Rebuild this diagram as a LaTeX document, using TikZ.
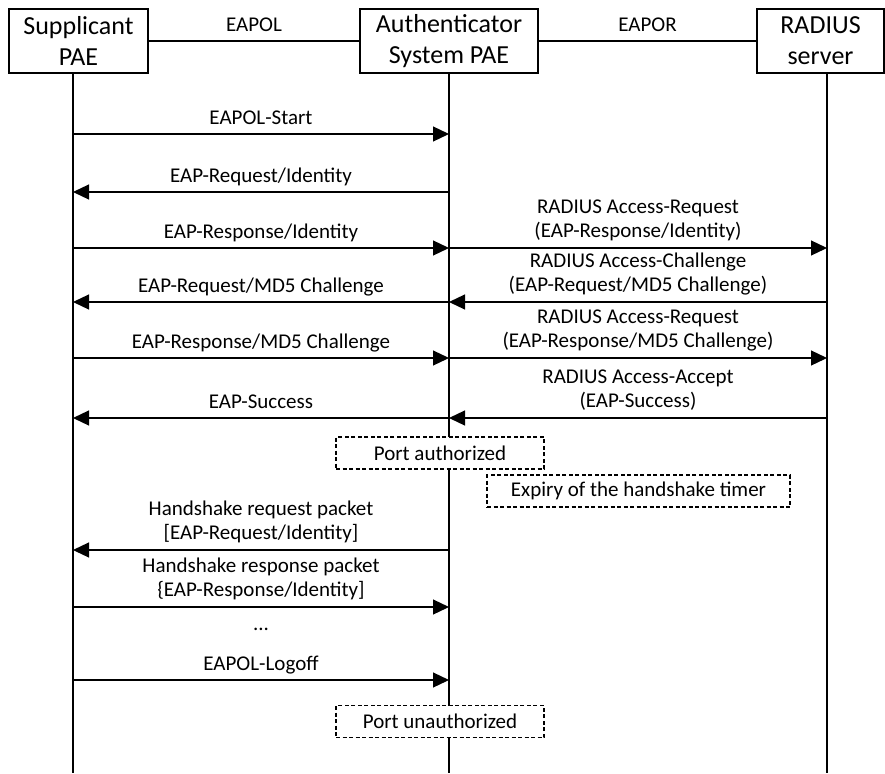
\documentclass[tikz,border=0pt]{standalone}
\usepackage{fontspec}
\setmainfont{Carlito}
\usetikzlibrary{arrows.meta, positioning}

\begin{document}
\begin{tikzpicture}[x=1pt, y=-1pt, line width=1.2pt,
  party/.style={draw, fill=white, align=center, inner sep=0pt, minimum height=64pt,
    font=\fontsize{26}{31}\selectfont},
  msg/.style={-{Triangle[length=16pt, width=15pt]}},
  lbl/.style={align=center, inner sep=0pt, text depth=5pt,
    font=\fontsize{21}{24}\selectfont},
  portstate/.style={draw, fill=white, dash pattern=on 4pt off 2.5pt, inner sep=0pt,
    minimum height=32pt, font=\fontsize{21}{24}\selectfont}]
  \clip (0,0) rectangle (885,773);
  % Parties
  \node[party, minimum width=139pt] (sup) at (78.5,41) {Supplicant\\PAE};
  \node[party, minimum width=178pt] (auth) at (449,41) {Authenticator\\System PAE};
  \node[party, minimum width=127pt] (rad) at (820.5,41) {RADIUS\\server};
  \draw (sup.east) -- node[lbl, above=4pt] (eapol) {EAPOL} (auth.west);
  \draw (auth.east) -- node[lbl, above=4pt] (eapor) {EAPOR} (rad.west);
  % Lifelines
  \coordinate (supTop) at (73,73);   \coordinate (supEnd) at (73,773);
  \coordinate (authTop) at (449,73); \coordinate (authEnd) at (449,773);
  \coordinate (radTop) at (827,73);  \coordinate (radEnd) at (827,773);
  \draw (supTop) -- (supEnd);
  \draw (authTop) -- (authEnd);
  \draw (radTop) -- (radEnd);
  \foreach \n/\y in {1/134, 2/192, 3/248, 4/302, 5/358, 6/418, 7/550, 8/607, 9/680} {
    \coordinate (s\n) at (73,\y);
    \coordinate (a\n) at (449,\y);
    \coordinate (r\n) at (827,\y);
  }
  % EAPOL side
  \draw[msg] (s1) -- node[lbl, above=3.5pt] (m1) {EAPOL-Start} (a1);
  \draw[msg] (a2) -- node[lbl, above=3.5pt] (m2) {EAP-Request/Identity} (s2);
  \draw[msg] (s3) -- node[lbl, above=3.5pt] (m3) {EAP-Response/Identity} (a3);
  \draw[msg] (a4) -- node[lbl, above=3.5pt] (m4) {EAP-Request/MD5 Challenge} (s4);
  \draw[msg] (s5) -- node[lbl, above=3.5pt] (m5) {EAP-Response/MD5 Challenge} (a5);
  \draw[msg] (a6) -- node[lbl, above=3.5pt] (m6) {EAP-Success} (s6);
  % EAPOR side
  \draw[msg] (a3) -- node[lbl, above=4.5pt] (n3) {RADIUS Access-Request\\(EAP-Response/Identity)} (r3);
  \draw[msg] (r4) -- node[lbl, above=4.5pt] (n4) {RADIUS Access-Challenge\\(EAP-Request/MD5 Challenge)} (a4);
  \draw[msg] (a5) -- node[lbl, above=4.5pt] (n5) {RADIUS Access-Request\\(EAP-Response/MD5 Challenge)} (r5);
  \draw[msg] (r6) -- node[lbl, above=4.5pt] (n6) {RADIUS Access-Accept\\(EAP-Success)} (a6);
  % Port states
  \node[portstate, minimum width=208pt] (authorized) at (440,453) {Port authorized};
  \node[portstate, minimum width=303pt] (expiry) at (638.5,491) {Expiry of the handshake timer};
  % Handshake
  \draw[msg] (a7) -- node[lbl, above=4.5pt] (m7) {Handshake request packet\\{[}EAP-Request/Identity{]}} (s7);
  \draw[msg] (s8) -- node[lbl, above=4.5pt] (m8) {Handshake response packet\\\{EAP-Response/Identity{]}} (a8);
  \node[lbl, anchor=base] (dots) at (261,630) {...};
  \draw[msg] (s9) -- node[lbl, above=3.5pt] (m9) {EAPOL-Logoff} (a9);
  \node[portstate, minimum width=208pt] (unauthorized) at (440,721.5) {Port unauthorized};
\end{tikzpicture}
\end{document}
